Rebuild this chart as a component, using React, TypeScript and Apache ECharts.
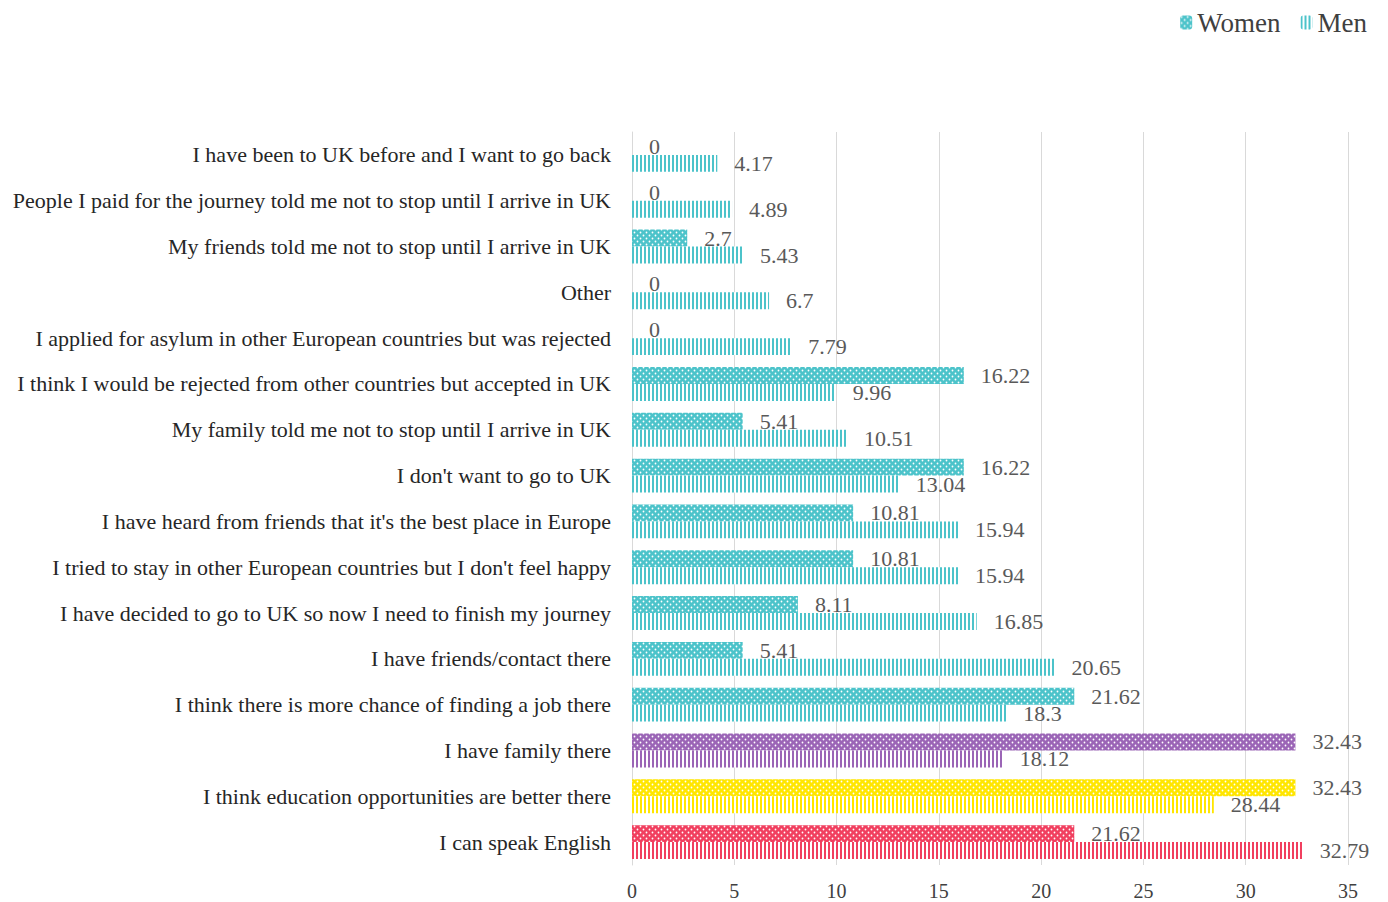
import React, { useEffect, useRef } from "react";
import * as echarts from "echarts";

const categories = [
  "I have been to UK before and I want to go back",
  "People I paid for the journey told me not to stop until I arrive in UK",
  "My friends told me not to stop until I arrive in UK",
  "Other",
  "I applied for asylum in other European countries but was rejected",
  "I think I would be rejected from other countries but accepted in UK",
  "My family told me not to stop until I arrive in UK",
  "I don't want to go to UK",
  "I have heard from friends that it's the best place in Europe",
  "I tried to stay in other European countries but I don't feel happy",
  "I have decided to go to UK so now I need to finish my journey",
  "I have friends/contact there",
  "I think there is more chance of finding a job there",
  "I have family there",
  "I think education opportunities are better there",
  "I can speak English",
];
const women = [0, 0, 2.7, 0, 0, 16.22, 5.41, 16.22, 10.81, 10.81, 8.11, 5.41, 21.62, 32.43, 32.43, 21.62];
const men = [4.17, 4.89, 5.43, 6.7, 7.79, 9.96, 10.51, 13.04, 15.94, 15.94, 16.85, 20.65, 18.3, 18.12, 28.44, 32.79];
const barColors = [
  "#4cc3ca", "#4cc3ca", "#4cc3ca", "#4cc3ca", "#4cc3ca", "#4cc3ca", "#4cc3ca", "#4cc3ca",
  "#4cc3ca", "#4cc3ca", "#4cc3ca", "#4cc3ca", "#4cc3ca", "#9b65b6", "#ffe600", "#f13f5f",
];

function dotPattern(color: string) {
  const c = document.createElement("canvas");
  c.width = 6;
  c.height = 6;
  const ctx = c.getContext("2d")!;
  ctx.fillStyle = color;
  ctx.fillRect(0, 0, 6, 6);
  ctx.fillStyle = "#ffffff";
  ctx.beginPath();
  ctx.arc(1.5, 1.5, 0.9, 0, Math.PI * 2);
  ctx.arc(4.5, 4.5, 0.9, 0, Math.PI * 2);
  ctx.fill();
  return { image: c, repeat: "repeat" } as any;
}

function stripePattern(color: string) {
  const c = document.createElement("canvas");
  c.width = 4;
  c.height = 4;
  const ctx = c.getContext("2d")!;
  ctx.fillStyle = "#ffffff";
  ctx.fillRect(0, 0, 4, 4);
  ctx.fillStyle = color;
  ctx.fillRect(0, 0, 2, 4);
  return { image: c, repeat: "repeat" } as any;
}

const FONT = "'Liberation Serif', serif";

export default function App() {
  const ref = useRef<HTMLDivElement>(null);
  useEffect(() => {
    const chart = echarts.init(ref.current!, undefined, { renderer: "svg" });
    const labelStyle = {
      show: true,
      position: "right",
      distance: 17,
      color: "#595959",
      fontSize: 22,
      fontFamily: FONT,
    };
    chart.setOption({
      animation: false,
      textStyle: { fontFamily: FONT },
      legend: {
        data: ["Women", "Men"],
        right: 16,
        top: 4,
        itemWidth: 12,
        itemHeight: 14,
        itemGap: 20,
        textStyle: { fontSize: 27, color: "#404040", fontFamily: FONT },
      },
      grid: { left: 632, right: 40, top: 132, bottom: 37 },
      xAxis: {
        type: "value",
        min: 0,
        max: 35,
        interval: 5,
        axisLine: { show: false },
        axisTick: { show: false },
        axisLabel: { fontSize: 20, color: "#404040", margin: 16, fontFamily: FONT },
        splitLine: { lineStyle: { color: "#d9d9d9", width: 1 } },
      },
      yAxis: {
        type: "category",
        data: categories,
        inverse: true,
        axisLine: { show: true, lineStyle: { color: "#d9d9d9" } },
        axisTick: { show: false },
        axisLabel: { fontSize: 22, color: "#262626", margin: 21, fontFamily: FONT },
      },
      series: [
        {
          name: "Women",
          type: "bar",
          barGap: "0%",
          barCategoryGap: "26%",
          itemStyle: { color: dotPattern("#4cc3ca") },
          label: labelStyle,
          data: women.map((v, i) => ({ value: v, itemStyle: { color: dotPattern(barColors[i]) } })),
        },
        {
          name: "Men",
          type: "bar",
          barGap: "0%",
          barCategoryGap: "26%",
          itemStyle: { color: stripePattern("#4cc3ca") },
          label: labelStyle,
          data: men.map((v, i) => ({ value: v, itemStyle: { color: stripePattern(barColors[i]) } })),
        },
      ],
    });
    return () => chart.dispose();
  }, []);
  return (
    <div
      ref={ref}
      style={{ position: "fixed", left: 0, top: 0, width: 1388, height: 902, background: "#fff" }}
    />
  );
}
